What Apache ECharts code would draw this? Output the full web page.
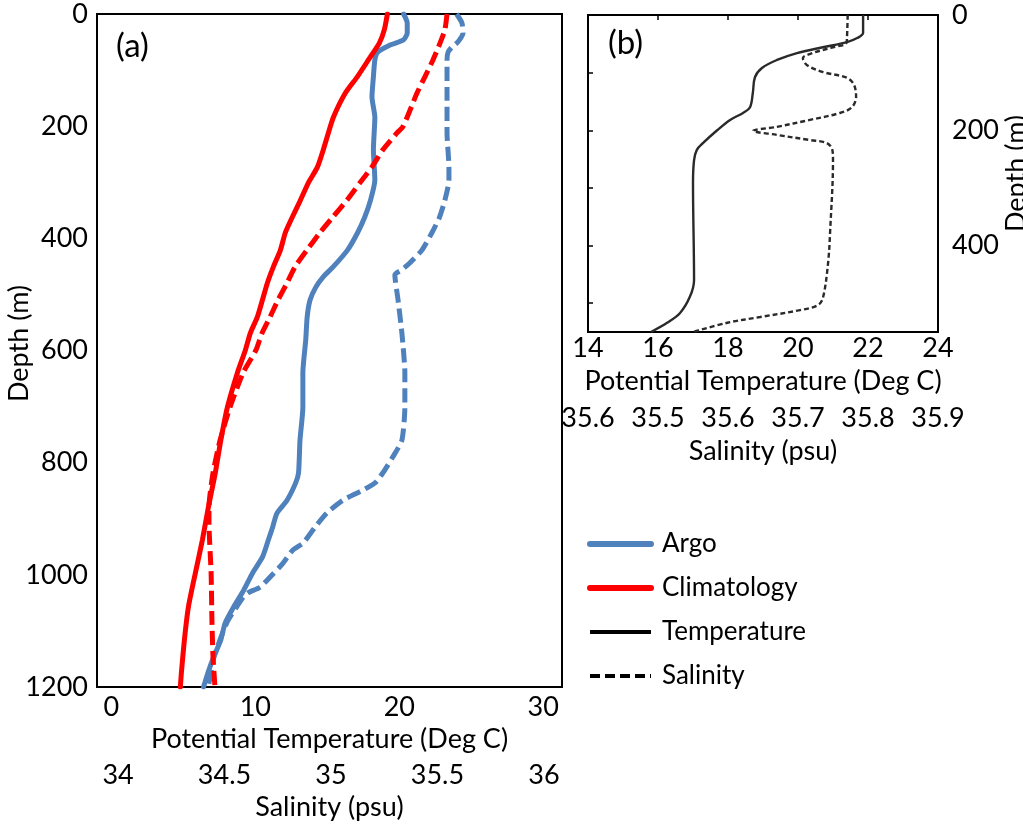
<!DOCTYPE html>
<html>
<head>
<meta charset="utf-8">
<script src="https://cdn.jsdelivr.net/npm/echarts@6/dist/echarts.min.js"></script>
<style>
  html, body { margin: 0; padding: 0; background: #fff; }
  #chart { width: 1023px; height: 824px; }
</style>
</head>
<body>
<div id="chart"></div>
<script>
// ---- Panel (a): Argo vs climatology profiles ----
const argoTempDepth = [0, 16, 34, 46, 55, 68, 82, 112, 148, 184, 242, 296, 332, 362, 390, 421, 451, 469, 487, 510, 540, 581, 640, 701, 760, 818, 836, 867, 890, 915, 938, 968, 997, 1027, 1057, 1086, 1116, 1147, 1175, 1200];
const argoTemp = [20.3, 20.55, 20.55, 20.3, 19.4, 18.5, 18.3, 18.2, 18.1, 18.3, 18.2, 18.3, 18.0, 17.6, 17.1, 16.4, 15.4, 14.7, 14.2, 13.8, 13.6, 13.5, 13.3, 13.3, 13.1, 13.0, 12.8, 12.2, 11.5, 11.2, 10.9, 10.5, 9.8, 9.2, 8.5, 7.9, 7.6, 7.1, 6.7, 6.4];

const argoSalDepth = [0, 16, 34, 50, 59, 68, 82, 153, 212, 273, 296, 332, 362, 390, 421, 444, 456, 465, 510, 569, 640, 701, 760, 790, 818, 836, 849, 867, 890, 915, 943, 956, 979, 1004, 1022, 1032, 1040, 1086, 1147, 1175, 1200];
const argoSal = [35.59, 35.615, 35.62, 35.596, 35.568, 35.55, 35.545, 35.545, 35.545, 35.554, 35.554, 35.535, 35.51, 35.474, 35.427, 35.37, 35.333, 35.30, 35.315, 35.333, 35.347, 35.347, 35.333, 35.29, 35.244, 35.207, 35.15, 35.056, 34.98, 34.925, 34.87, 34.82, 34.775, 34.714, 34.667, 34.61, 34.587, 34.51, 34.45, 34.437, 34.423];

const climTempDepth = [0, 28, 52, 82, 112, 141, 184, 212, 242, 273, 301, 332, 362, 390, 421, 451, 480, 510, 540, 569, 599, 640, 701, 760, 818, 879, 938, 997, 1057, 1116, 1175, 1200];
const climTemp = [19.17, 18.96, 18.61, 17.85, 17.08, 16.25, 15.42, 15.07, 14.72, 14.31, 13.68, 13.13, 12.57, 12.08, 11.74, 11.25, 10.83, 10.49, 10.14, 9.65, 9.31, 8.75, 8.06, 7.6, 7.22, 6.74, 6.32, 5.83, 5.35, 5.07, 4.86, 4.79];

const climSalDepth = [0, 28, 52, 82, 112, 141, 201, 212, 242, 273, 301, 332, 362, 390, 421, 451, 480, 510, 540, 569, 599, 640, 701, 760, 818, 879, 908, 997, 1086, 1147, 1200];
const climSal = [35.545, 35.535, 35.512, 35.479, 35.441, 35.404, 35.338, 35.31, 35.244, 35.192, 35.136, 35.075, 35.009, 34.948, 34.887, 34.831, 34.793, 34.751, 34.714, 34.676, 34.648, 34.587, 34.526, 34.479, 34.446, 34.427, 34.427, 34.437, 34.441, 34.446, 34.455];

const tempTicksA = [0, 10, 20, 30];
const salTicksA = [34, 34.5, 35, 35.5, 36];
const depthTicksA = [0, 200, 400, 600, 800, 1000, 1200];

// ---- Panel (b): single profile, upper 550 m ----
const bTempDepth = [0, 31, 40, 47, 56, 66, 78, 92, 108, 135, 160, 170, 182, 200, 222, 234, 252, 291, 460, 489, 517, 534, 550];
const bTemp = [21.86, 21.86, 21.69, 21.4, 20.71, 19.97, 19.4, 18.97, 18.77, 18.71, 18.63, 18.43, 18.06, 17.69, 17.29, 17.11, 17.03, 17.0, 17.03, 16.91, 16.63, 16.26, 15.8];

const bSalDepth = [0, 38, 49, 56, 66, 75, 87, 99, 109, 121, 142, 160, 170, 182, 194, 201, 208, 217, 222, 234, 252, 373, 430, 489, 503, 512, 524, 534, 550];
const bSal = [35.771, 35.770, 35.769, 35.750, 35.721, 35.707, 35.713, 35.736, 35.770, 35.780, 35.783, 35.777, 35.760, 35.717, 35.670, 35.636, 35.670, 35.717, 35.741, 35.749, 35.750, 35.746, 35.743, 35.736, 35.729, 35.703, 35.646, 35.599, 35.55];

const tempTicksB = [14, 16, 18, 20, 22, 24];
const salTickValuesB = [35.4, 35.5, 35.6, 35.7, 35.8, 35.9];
const salTickLabelsB = ['35.6', '35.5', '35.6', '35.7', '35.8', '35.9'];
const depthTicksB = [0, 200, 400];
const depthMinorTicksB = [100, 200, 300, 400, 500];

const legendNames = ['Argo', 'Climatology', 'Temperature', 'Salinity'];

// ---- styling ----
const FONT = 'Lato';
const BLUE = '#4F81BD';
const RED = '#FF0000';
const INK = '#2a2a2a';

function pairs(xs, ys) {
  return xs.map((x, i) => [x, ys[i]]);
}

const labelText = { fontFamily: FONT, fontSize: 27, color: '#000' };
const plain = v => String(v);

function valueAxisBase(extra) {
  return Object.assign({
    type: 'value',
    axisLine: { show: false },
    axisTick: { show: false },
    splitLine: { show: false },
    nameLocation: 'middle',
    nameTextStyle: labelText
  }, extra);
}

const chart = echarts.init(document.getElementById('chart'), null, { renderer: 'canvas' });

const option = {
  backgroundColor: '#fff',
  animation: false,
  textStyle: { fontFamily: FONT },
  grid: [
    { left: 97, top: 14, width: 465, height: 673, show: true, borderColor: '#000', borderWidth: 2, backgroundColor: 'transparent', outerBoundsMode: 'none' },
    { left: 588, top: 15, width: 350, height: 317, show: true, borderColor: '#000', borderWidth: 2, backgroundColor: 'transparent', outerBoundsMode: 'none' }
  ],
  xAxis: [
    valueAxisBase({
      gridIndex: 0, position: 'bottom', min: -1, max: 31.3,
      axisLabel: Object.assign({ customValues: tempTicksA, margin: 7, formatter: plain }, labelText),
      name: 'Potential Temperature (Deg C)', nameGap: 38
    }),
    valueAxisBase({
      gridIndex: 0, position: 'bottom', offset: 68, min: 33.901, max: 36.085,
      axisLabel: Object.assign({ customValues: salTicksA, margin: 7, formatter: plain }, labelText),
      name: 'Salinity (psu)', nameGap: 38
    }),
    valueAxisBase({
      gridIndex: 1, position: 'bottom', min: 14, max: 24,
      axisLabel: Object.assign({ customValues: tempTicksB, margin: 3, formatter: plain }, labelText),
      name: 'Potential Temperature (Deg C)', nameGap: 36
    }),
    valueAxisBase({
      gridIndex: 1, position: 'top', min: 14, max: 24,
      axisTick: { show: true, inside: true, length: 5, customValues: tempTicksB.slice(1, -1), lineStyle: { color: '#000', width: 1.5 } },
      axisLabel: { show: false }
    }),
    valueAxisBase({
      gridIndex: 1, position: 'bottom', offset: 70, min: 35.4, max: 35.9,
      axisLabel: Object.assign({
        customValues: salTickValuesB, margin: 3,
        formatter: function (v) {
          const i = salTickValuesB.findIndex(t => Math.abs(t - v) < 1e-6);
          return i >= 0 ? salTickLabelsB[i] : '';
        }
      }, labelText),
      name: 'Salinity (psu)', nameGap: 36
    })
  ],
  yAxis: [
    valueAxisBase({
      gridIndex: 0, position: 'left', inverse: true, min: 0, max: 1200,
      axisLabel: Object.assign({ customValues: depthTicksA, margin: 9, formatter: plain }, labelText),
      name: 'Depth (m)', nameGap: 64, nameRotate: 90, nameMoveOverlap: false,
      nameTextStyle: Object.assign({ padding: [0, 0, 0, 14] }, labelText)
    }),
    valueAxisBase({
      gridIndex: 1, position: 'right', inverse: true, min: 0, max: 550,
      axisLabel: Object.assign({ customValues: depthTicksB, margin: 14, formatter: plain }, labelText),
      name: 'Depth (m)', nameGap: 58, nameRotate: 90
    }),
    valueAxisBase({
      gridIndex: 1, position: 'left', inverse: true, min: 0, max: 550,
      axisTick: { show: true, inside: true, length: 5, customValues: depthMinorTicksB, lineStyle: { color: '#000', width: 1.5 } },
      axisLabel: { show: false }
    })
  ],
  legend: {
    orient: 'vertical',
    left: 587,
    top: 531,
    padding: 0,
    itemWidth: 61,
    itemHeight: 20,
    itemGap: 18,
    selectedMode: false,
    itemStyle: { opacity: 0 },
    textStyle: { fontFamily: FONT, fontSize: 26, color: '#000', padding: [0, 0, 0, 6], lineHeight: 25 },
    data: [
      { name: legendNames[0], lineStyle: { width: 6, type: 'solid' } },
      { name: legendNames[1], lineStyle: { width: 6, type: 'solid' } },
      { name: legendNames[2], lineStyle: { width: 4, type: 'solid', color: '#000' } },
      { name: legendNames[3], lineStyle: { width: 4, type: [10, 5], color: '#000' } }
    ]
  },
  graphic: [
    { type: 'text', left: 116, top: 30, style: { text: '(a)', fontFamily: FONT, fontSize: 33, fill: '#000' } },
    { type: 'text', left: 608, top: 27, style: { text: '(b)', fontFamily: FONT, fontSize: 33, fill: '#000' } }
  ],
  series: [
    {
      name: 'Argo', type: 'line', xAxisIndex: 0, yAxisIndex: 0,
      data: pairs(argoTemp, argoTempDepth), symbol: 'none', smooth: 0.2,
      itemStyle: { color: BLUE },
      lineStyle: { color: BLUE, width: 5, cap: 'round', join: 'round' }
    },
    {
      name: 'Argo', type: 'line', xAxisIndex: 1, yAxisIndex: 0,
      data: pairs(argoSal, argoSalDepth), symbol: 'none', smooth: 0.2,
      itemStyle: { color: BLUE },
      lineStyle: { color: BLUE, width: 5, type: [14, 6], join: 'round' }
    },
    {
      name: 'Climatology', type: 'line', xAxisIndex: 0, yAxisIndex: 0,
      data: pairs(climTemp, climTempDepth), symbol: 'none', smooth: 0.2,
      itemStyle: { color: RED },
      lineStyle: { color: RED, width: 5, cap: 'round', join: 'round' }
    },
    {
      name: 'Climatology', type: 'line', xAxisIndex: 1, yAxisIndex: 0,
      data: pairs(climSal, climSalDepth), symbol: 'none', smooth: 0.2,
      itemStyle: { color: RED },
      lineStyle: { color: RED, width: 5, type: [14, 6], join: 'round' }
    },
    {
      name: 'Temperature', type: 'line', xAxisIndex: 2, yAxisIndex: 1,
      data: pairs(bTemp, bTempDepth), symbol: 'none', smooth: 0.35,
      itemStyle: { color: INK },
      lineStyle: { color: INK, width: 2.4 }
    },
    {
      name: 'Salinity', type: 'line', xAxisIndex: 4, yAxisIndex: 1,
      data: pairs(bSal, bSalDepth), symbol: 'none', smooth: 0.35,
      itemStyle: { color: INK },
      lineStyle: { color: INK, width: 2.4, type: [5, 3] }
    }
  ]
};

chart.setOption(option);
</script>
</body>
</html>
